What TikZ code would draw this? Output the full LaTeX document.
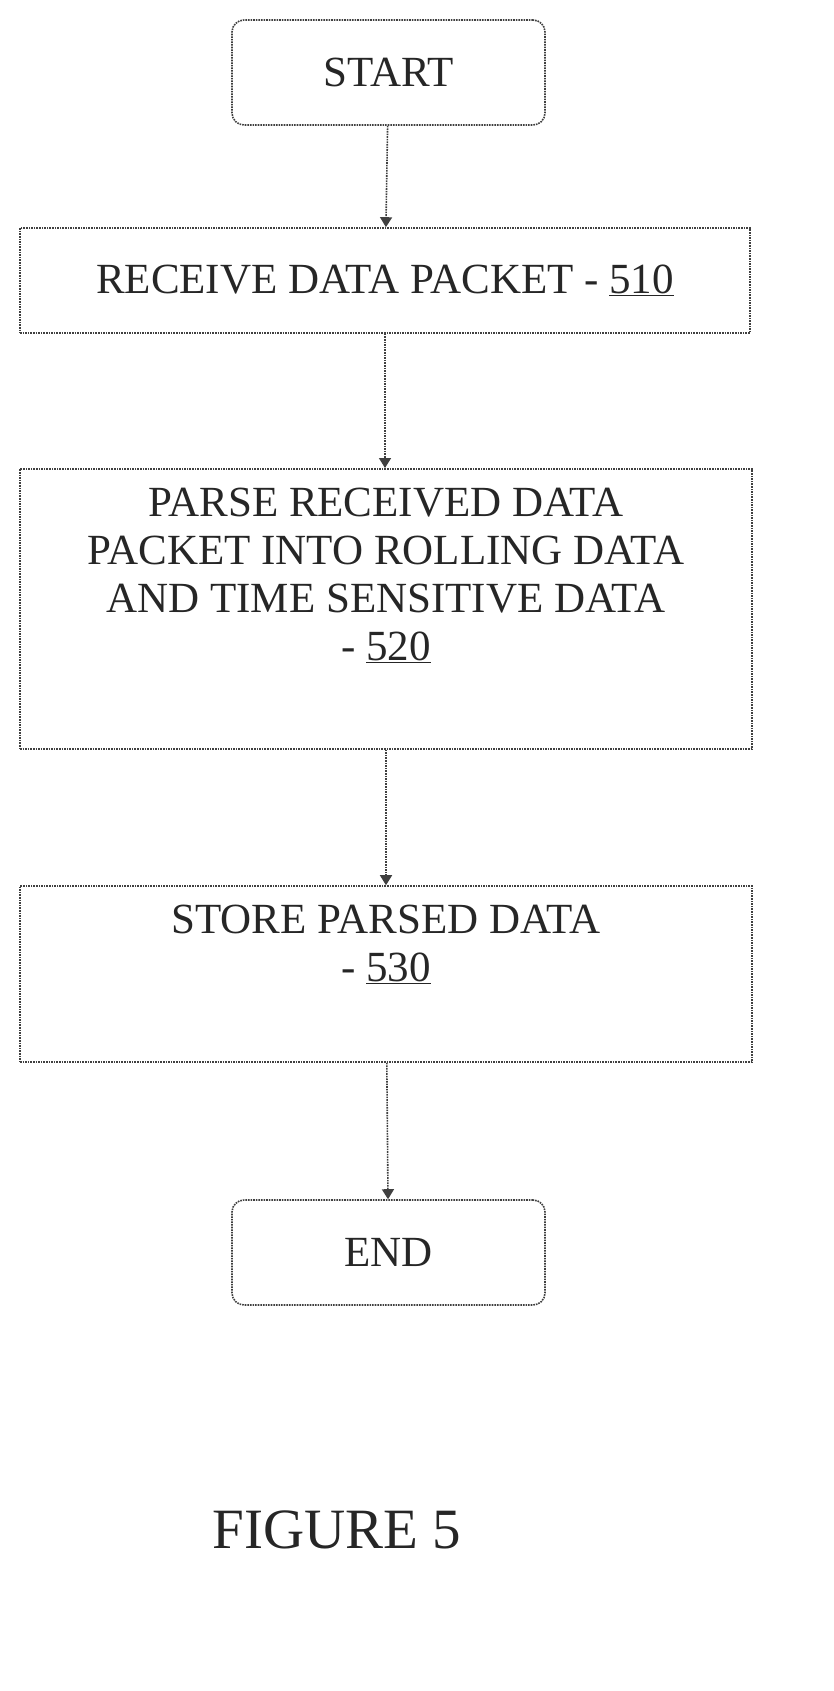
\documentclass[tikz,border=0pt]{standalone}
\usepackage{fontspec}
\setmainfont{Liberation Serif}
\usetikzlibrary{arrows.meta}
\begin{document}
\begin{tikzpicture}[x=1pt,y=-1pt,
 box/.style={draw=black!75,densely dotted,line width=1.6pt,align=center,font=\fontsize{43}{48}\selectfont,text=black!85},
 term/.style={box,rounded corners=12pt},
 conn/.style={draw=black!75,densely dotted,line width=1.6pt,-{Triangle[width=12pt,length=10pt,fill=black!75]}}]
\useasboundingbox (0,0) rectangle (834,1691);
\node[term,minimum width=313pt,minimum height=105pt] (start) at (388.5,72.5) {START};
\node[box,minimum width=730pt,minimum height=105pt] (s510) at (385,280.5) {RECEIVE DATA PACKET - \underline{510}};
\node[box,minimum width=732pt,minimum height=280pt,anchor=north] (s520) at (386,468) {};
\node[box,draw=none,anchor=north] (t520) at (386,484) {PARSE RECEIVED DATA\\PACKET INTO ROLLING DATA\\AND TIME SENSITIVE DATA\\- \underline{520}};
\node[box,minimum width=732pt,minimum height=176pt] (s530) at (386,974) {};
\node[box,draw=none,anchor=north] (t530) at (386,901) {STORE PARSED DATA\\- \underline{530}};
\node[term,minimum width=313pt,minimum height=105pt] (end) at (388.5,1252.5) {END};
\node[font=\fontsize{57}{66}\selectfont,text=black!85] (fig) at (337,1530) {FIGURE 5};
\draw[conn] (start) -- (s510);
\draw[conn] (s510) -- (s510 |- s520.north);
\draw[conn] (s520) -- (s530);
\draw[conn] (s530) -- (end);
\end{tikzpicture}
\end{document}
